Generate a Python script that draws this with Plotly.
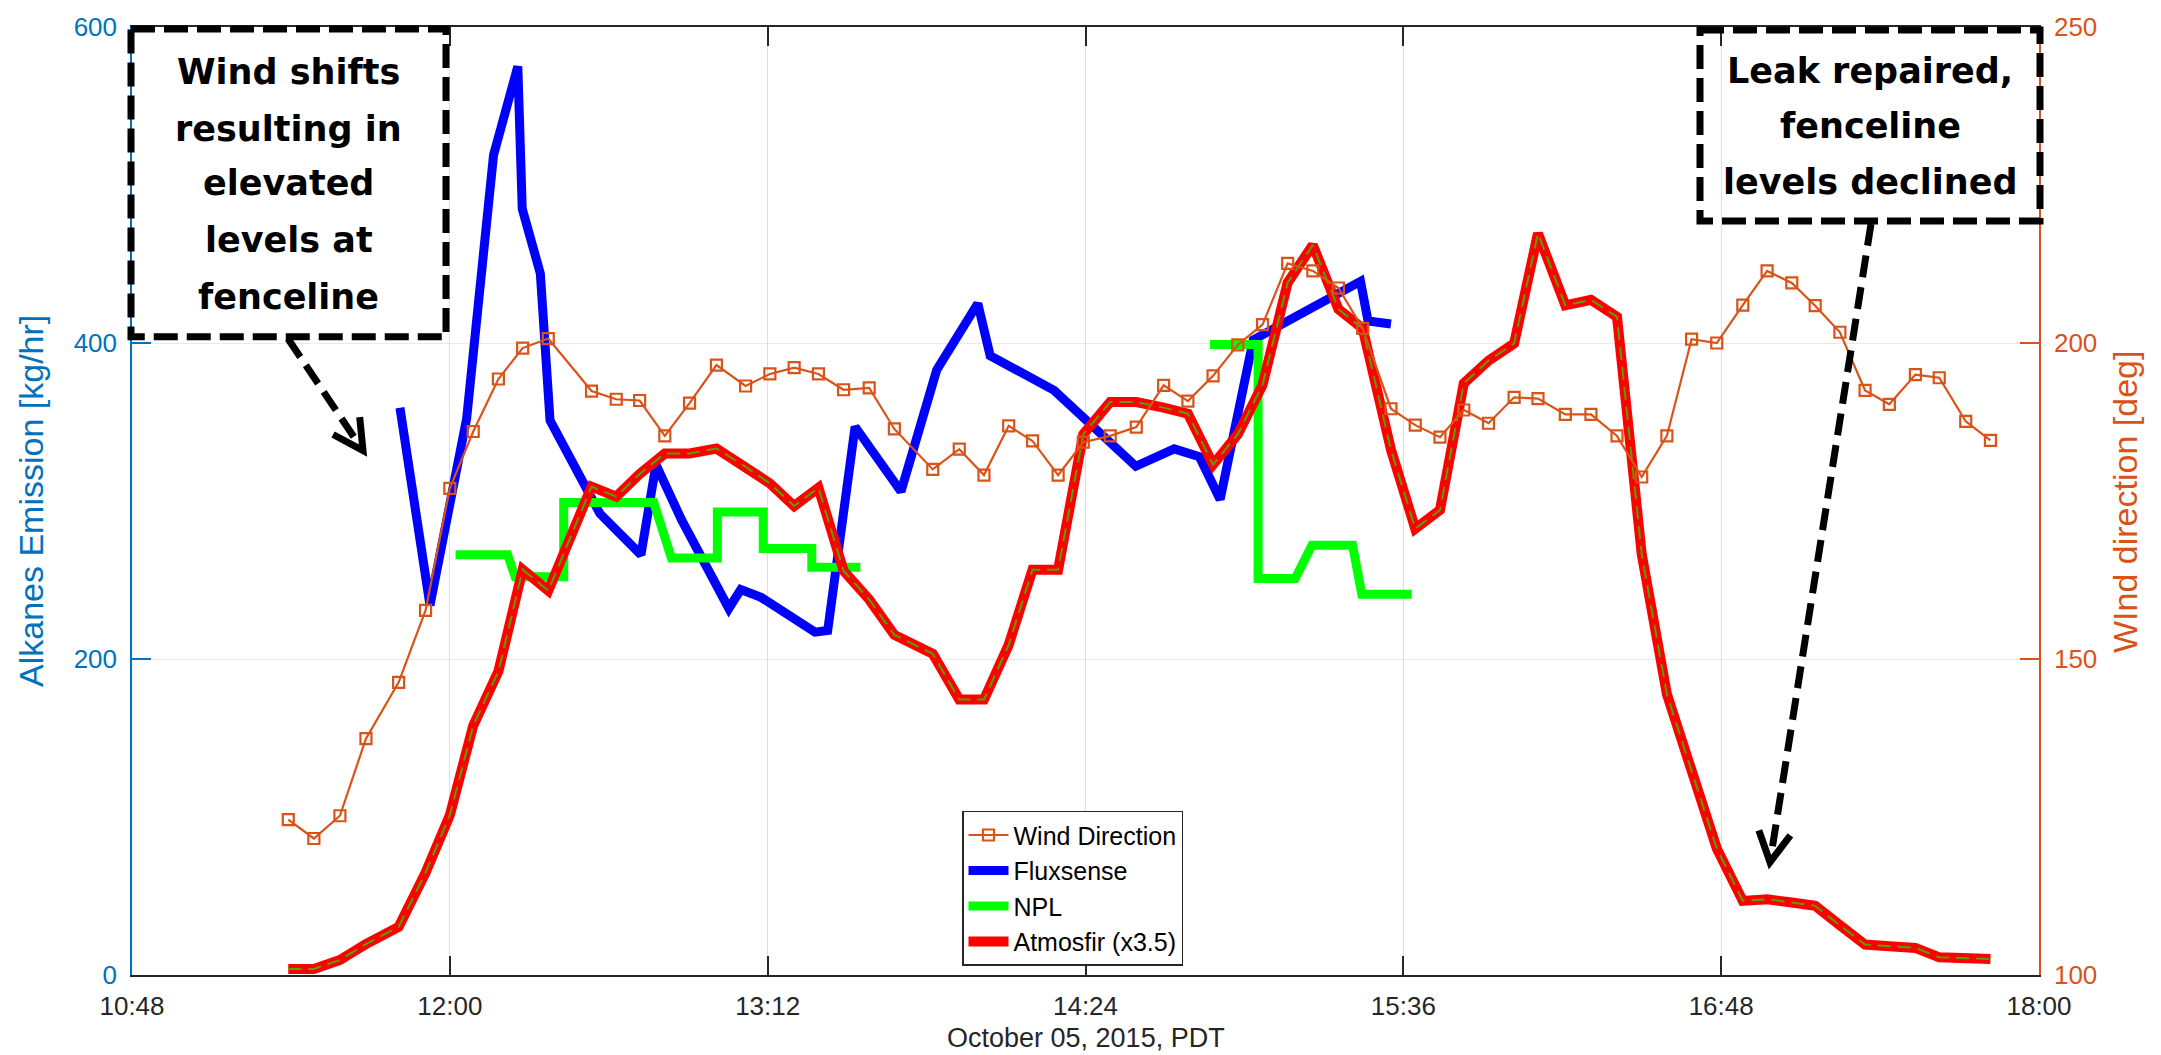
import math
import plotly.graph_objects as go

DAY = "2015-10-05"

# Shared sample clock for the wind vane and the Atmosfir FTIR (PDT)
sample_times = [
    "11:23:24", "11:29:12", "11:35:06", "11:41:00", "11:48:24", "11:54:30",
    "12:00:00", "12:05:18", "12:11:00", "12:16:30", "12:22:18", "12:32:06",
    "12:37:42", "12:43:00", "12:48:42", "12:54:18", "13:00:24", "13:07:00",
    "13:12:30", "13:18:00", "13:23:30", "13:29:12", "13:35:00", "13:40:42",
    "13:49:24", "13:55:24", "14:01:00", "14:06:36", "14:12:00", "14:17:48",
    "14:23:30", "14:29:36", "14:35:30", "14:41:42", "14:47:12", "14:52:54",
    "14:58:30", "15:04:06", "15:09:48", "15:15:30", "15:21:18", "15:26:48",
    "15:33:12", "15:38:42", "15:44:18", "15:49:42", "15:55:18", "16:01:06",
    "16:06:30", "16:12:42", "16:18:30", "16:24:24", "16:30:00", "16:35:42",
    "16:41:18", "16:47:00", "16:52:54", "16:58:24", "17:04:00", "17:09:18",
    "17:14:54", "17:20:36", "17:26:06", "17:32:00", "17:37:24", "17:43:24",
    "17:49:00",
]

wind_direction_deg = [
    124.6, 121.6, 125.2, 137.4, 146.3, 157.7, 177.0, 186.0, 194.3, 199.2,
    200.7, 192.4, 191.1, 190.9, 185.3, 190.5, 196.5, 193.2, 195.1, 196.1,
    195.1, 192.6, 192.9, 186.4, 180.0, 183.2, 179.1, 186.9, 184.5, 179.1,
    184.3, 185.3, 186.7, 193.3, 190.8, 194.8, 199.7, 202.9, 212.6, 211.4,
    208.7, 202.3, 189.6, 187.0, 185.1, 189.4, 187.3, 191.4, 191.2, 188.7,
    188.7, 185.3, 178.8, 185.3, 200.6, 200.0, 206.0, 211.4, 209.5, 205.9,
    201.7, 192.5, 190.3, 195.0, 194.5, 187.6, 184.6,
]

# Atmosfir alkanes emission, kg/hr, before the x3.5 display scaling
atmosfir_kg_hr = [
    1.1, 1.1, 2.7, 5.6, 8.7, 18.5, 28.9, 45.1, 54.9, 73.3,
    69.5, 88.3, 86.5, 90.6, 94.3, 94.3, 95.2, 91.9, 88.9, 84.8,
    88.1, 73.1, 67.9, 61.5, 58.1, 49.8, 49.8, 59.7, 73.3, 73.3,
    97.8, 103.6, 103.6, 102.6, 101.5, 92.3, 97.8, 106.7, 125.2, 132.0,
    120.4, 116.9, 95.0, 80.7, 84.1, 107.0, 111.1, 114.2, 134.1, 121.1,
    122.1, 119.0, 76.1, 50.8, 36.9, 22.9, 13.4, 13.7, 13.1, 12.5,
    9.0, 5.5, 5.2, 4.9, 3.2, 3.0, 2.9,
]
ATMOSFIR_SCALE = 3.5

fluxsense_times = [
    "11:48:42", "11:55:30", "12:03:48", "12:06:48", "12:09:54", "12:15:24",
    "12:16:24", "12:20:30", "12:22:42", "12:34:00", "12:43:18", "12:46:42",
    "12:52:30", "13:03:12", "13:05:54", "13:10:30", "13:22:42", "13:25:36",
    "13:31:48", "13:42:12", "13:50:18", "13:59:36", "14:02:24", "14:16:54",
    "14:35:24", "14:44:06", "14:49:48", "14:54:30", "15:02:00", "15:26:18",
    "15:28:00", "15:33:12",
]
fluxsense_kg_hr = [
    359, 234, 352, 433, 519, 575, 485, 444, 351, 292, 266, 323,
    288, 232, 244, 239, 217, 218, 347, 306, 383, 425, 392, 370,
    322, 333, 328, 301, 402, 439, 414, 412,
]

# NPL DIAL step profile (None splits the two measurement periods)
npl_times = [
    "12:01:18", "12:13:06", "12:14:48", "12:25:48", "12:25:48", "12:46:12",
    "12:50:12", "13:00:36", "13:00:36", "13:11:00", "13:11:00", "13:22:00",
    "13:22:00", "13:33:00", None,
    "14:52:12", "15:03:06", "15:03:06", "15:11:30", "15:15:18", "15:24:30",
    "15:26:36", "15:37:54",
]
npl_kg_hr = [
    266, 266, 252, 252, 299, 299,
    264, 264, 293, 293, 270, 270,
    258, 258, None,
    399, 399, 251, 251, 272, 272,
    241, 241,
]

x_ticks = ["10:48", "12:00", "13:12", "14:24", "15:36", "16:48", "18:00"]

LEFT_BLUE = "#0072BD"
RIGHT_ORANGE = "#D95319"
AXIS_GREY = "#262626"
TEXT_FONT = "Liberation Sans, Arial, sans-serif"


def stamp(t):
    return None if t is None else f"{DAY} {t}"


W, H = 2161, 1055
PLOT_L, PLOT_R, PLOT_T, PLOT_B = 132, 2039, 17, 975


def px(x):
    return (x - PLOT_L) / (PLOT_R - PLOT_L)


def py(y):
    return (PLOT_B - y) / (PLOT_B - PLOT_T)


fig = go.Figure()

fig.add_trace(go.Scatter(
    x=[stamp(t) for t in fluxsense_times], y=fluxsense_kg_hr,
    mode="lines", name="Fluxsense", legendrank=2,
    line=dict(color="#0000FF", width=9),
))
fig.add_trace(go.Scatter(
    x=[stamp(t) for t in npl_times], y=npl_kg_hr,
    mode="lines", name="NPL", legendrank=3, connectgaps=False,
    line=dict(color="#00FF00", width=9),
))
atm_scaled = [v * ATMOSFIR_SCALE for v in atmosfir_kg_hr]
fig.add_trace(go.Scatter(
    x=[stamp(t) for t in sample_times], y=atm_scaled,
    mode="lines", name="Atmosfir (x3.5)", legendrank=4,
    line=dict(color="#FF0000", width=10),
))
fig.add_trace(go.Scatter(
    x=[stamp(t) for t in sample_times], y=atm_scaled,
    mode="lines", showlegend=False, hoverinfo="skip",
    line=dict(color="#58a000", width=2, dash="13px,7px"),
))
fig.add_trace(go.Scatter(
    x=[stamp(t) for t in sample_times], y=wind_direction_deg,
    mode="lines+markers", name="Wind Direction", legendrank=1, yaxis="y2",
    line=dict(color=RIGHT_ORANGE, width=2.2),
    marker=dict(symbol="square-open", size=11, color=RIGHT_ORANGE,
                line=dict(width=2.2, color=RIGHT_ORANGE)),
))

tick_font = dict(family=TEXT_FONT, size=26)

fig.update_layout(
    width=W, height=H, autosize=False,
    margin=dict(l=PLOT_L, r=W - PLOT_R, t=PLOT_T, b=H - PLOT_B, pad=0),
    paper_bgcolor="white", plot_bgcolor="white",
    showlegend=True,
    legend=dict(
        x=px(962), y=py(809), xanchor="left", yanchor="top",
        bgcolor="white", bordercolor=AXIS_GREY, borderwidth=1.5,
        font=dict(family=TEXT_FONT, size=25, color="black"),
        traceorder="normal", itemwidth=40, tracegroupgap=0,
    ),
    xaxis=dict(
        type="date",
        range=[f"{DAY} {x_ticks[0]}", f"{DAY} {x_ticks[-1]}"],
        tickmode="array",
        tickvals=[f"{DAY} {t}" for t in x_ticks],
        ticktext=x_ticks,
        ticks="inside", ticklen=19, tickwidth=1.5, tickcolor=AXIS_GREY,
        showline=True, linecolor=AXIS_GREY, linewidth=1.5, mirror="ticks",
        showgrid=True, gridcolor="rgba(38,38,38,0.15)", gridwidth=1,
        zeroline=False,
        tickfont=dict(tick_font, color=AXIS_GREY),
        ticklabelstandoff=7,
    ),
    yaxis=dict(
        range=[0, 600], tickvals=[0, 200, 400, 600],
        ticks="inside", ticklen=19, tickwidth=1.5, tickcolor=LEFT_BLUE,
        showline=True, linecolor=LEFT_BLUE, linewidth=1.5,
        showgrid=False, zeroline=False,
        tickfont=dict(tick_font, color=LEFT_BLUE),
        ticklabelstandoff=8,
    ),
    yaxis2=dict(
        range=[100, 250], tickvals=[100, 150, 200, 250],
        overlaying="y", side="right",
        ticks="inside", ticklen=19, tickwidth=1.5, tickcolor=RIGHT_ORANGE,
        showline=True, linecolor=RIGHT_ORANGE, linewidth=1.5,
        showgrid=True, gridcolor="rgba(217,83,25,0.15)", gridwidth=1,
        zeroline=False,
        tickfont=dict(tick_font, color=RIGHT_ORANGE),
        ticklabelstandoff=8,
    ),
)

# Axis titles
fig.add_annotation(
    text="Alkanes Emission [kg/hr]", textangle=-90,
    xref="paper", yref="paper", x=px(31), y=py(496),
    xanchor="center", yanchor="middle", showarrow=False,
    font=dict(family=TEXT_FONT, size=34, color=LEFT_BLUE),
)
fig.add_annotation(
    text="WInd direction [deg]", textangle=-90,
    xref="paper", yref="paper", x=px(2125), y=py(497),
    xanchor="center", yanchor="middle", showarrow=False,
    font=dict(family=TEXT_FONT, size=34, color=RIGHT_ORANGE),
)
fig.add_annotation(
    text="October 05, 2015, PDT",
    xref="paper", yref="paper", x=px(1086), y=py(1039),
    xanchor="center", yanchor="middle", showarrow=False,
    font=dict(family=TEXT_FONT, size=27, color=AXIS_GREY),
)

# Call-out boxes with dashed borders and dashed arrows
note_font = dict(family="DejaVu Sans, sans-serif", size=35, color="black")
callouts = [
    dict(box=(131, 19, 446, 330),
         lines=[("Wind shifts", 62), ("resulting in", 120), ("elevated", 175),
                ("levels at", 232), ("fenceline", 290)],
         arrow=((288, 332), (363, 445))),
    dict(box=(1700, 20, 2040, 213),
         lines=[("Leak repaired,", 61), ("fenceline", 117),
                ("levels declined", 174)],
         arrow=((1871, 216), (1770, 861))),
]

for c in callouts:
    x0, y0, x1, y1 = c["box"]
    fig.add_shape(type="rect", xref="paper", yref="paper",
                  x0=px(x0), y0=py(y0), x1=px(x1), y1=py(y1),
                  line=dict(color="black", width=7, dash="24px,9px"),
                  fillcolor="rgba(0,0,0,0)", layer="above")
    cx = (x0 + x1) / 2
    for text, ly in c["lines"]:
        fig.add_annotation(text=f"<b>{text}</b>", xref="paper", yref="paper",
                           x=px(cx), y=py(ly), xanchor="center",
                           yanchor="middle", showarrow=False, font=note_font)
    (sx, sy), (tx, ty) = c["arrow"]
    fig.add_shape(type="line", xref="paper", yref="paper",
                  x0=px(sx), y0=py(sy), x1=px(tx), y1=py(ty),
                  line=dict(color="black", width=7, dash="22px,10px"),
                  layer="above")
    # open arrowhead
    ang = math.atan2(sy - ty, sx - tx)
    arm, spread = 34, math.radians(28)
    pts = []
    for s in (-spread, spread):
        pts.append((tx + arm * math.cos(ang + s), ty + arm * math.sin(ang + s)))
    path = (f"M {px(pts[0][0])},{py(pts[0][1])} L {px(tx)},{py(ty)} "
            f"L {px(pts[1][0])},{py(pts[1][1])}")
    fig.add_shape(type="path", xref="paper", yref="paper", path=path,
                  line=dict(color="black", width=7), layer="above")

fig.write_html("out.html")
